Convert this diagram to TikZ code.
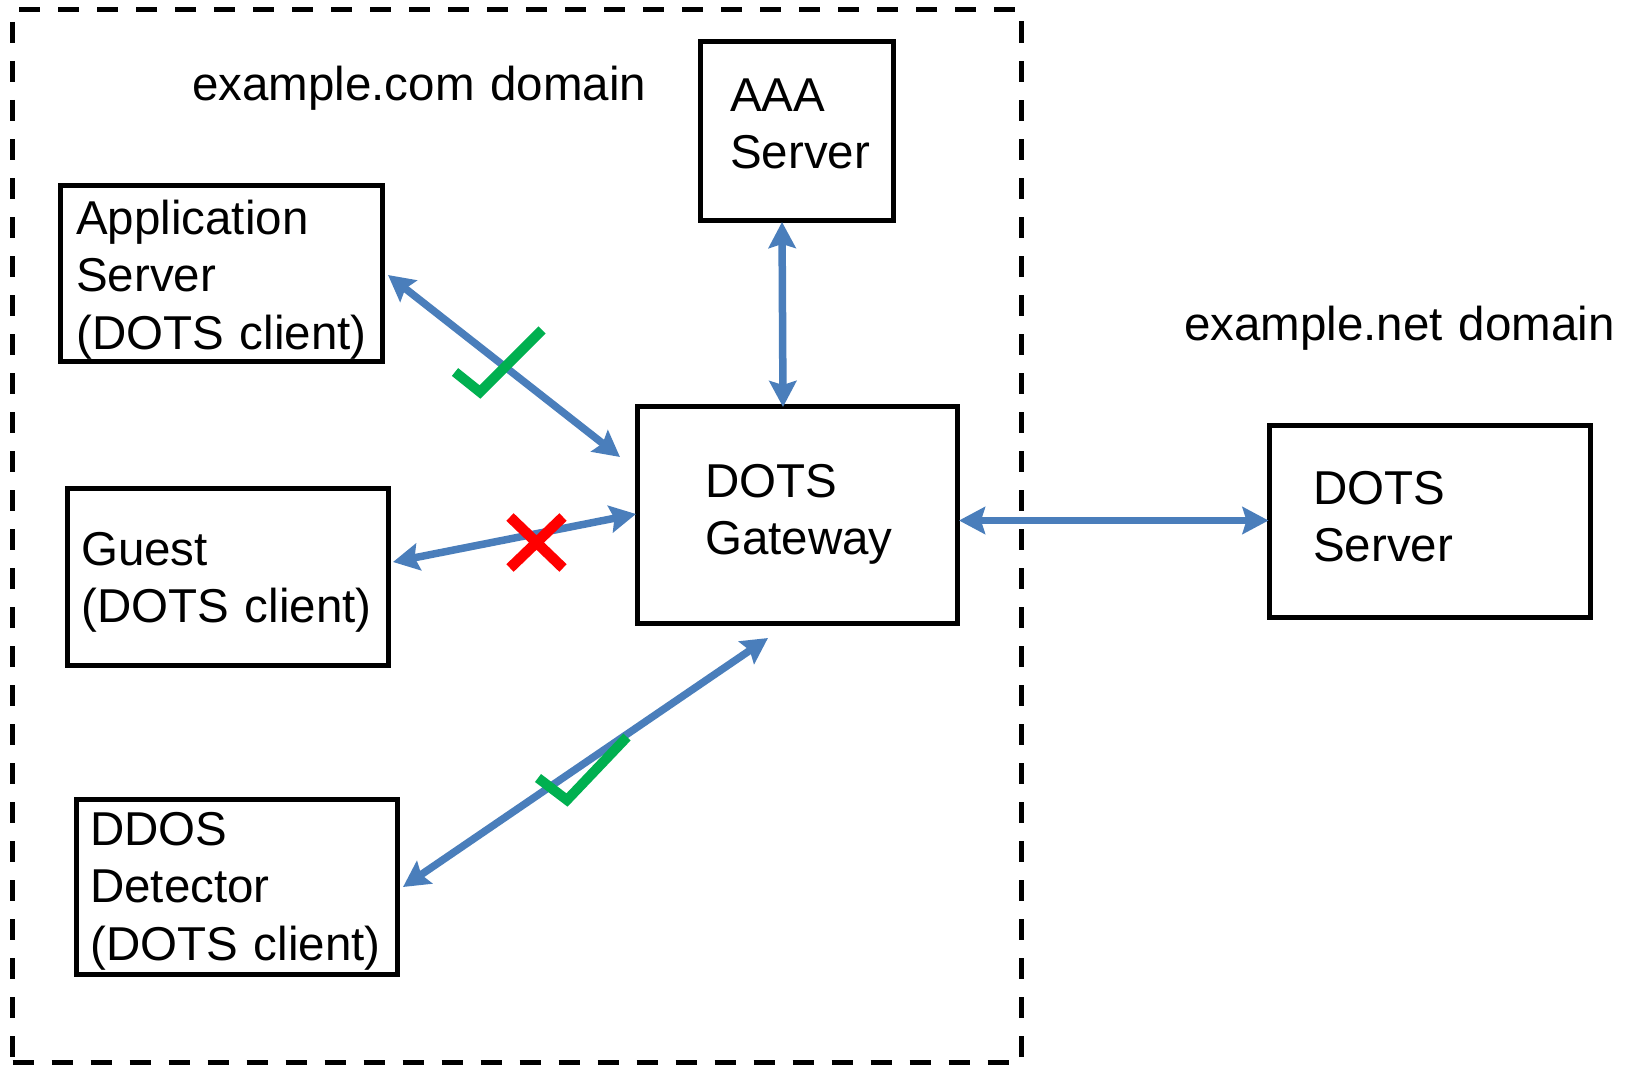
\documentclass[tikz,border=0pt]{standalone}
\usepackage{fontspec}
\setmainfont{Liberation Sans}
\usetikzlibrary{arrows.meta}
\definecolor{arrowblue}{RGB}{74,126,187}
\definecolor{okgreen}{RGB}{0,176,80}
\definecolor{nored}{RGB}{255,0,0}
\begin{document}
\begin{tikzpicture}[x=1pt,y=-1pt,
  box/.style={draw=black, line width=5pt, rectangle, inner sep=0pt},
  domainbox/.style={draw=black, line width=5pt, rectangle, inner sep=0pt, dash pattern=on 21pt off 18pt},
  lbl/.style={anchor=base west, inner sep=0pt, text width=620pt, align=left, font=\fontsize{47.5}{57.5}\selectfont},
  link/.style={draw=arrowblue, line width=7.5pt, {Stealth[length=26pt,width=27pt,inset=4pt]}-{Stealth[length=26pt,width=27pt,inset=4pt]}},
  tick/.style={draw=okgreen, line width=10pt, line join=miter},
  cross/.style={draw=nored, line width=10.5pt}]
\useasboundingbox (0,0) rectangle (1629,1065);

% domain border
\node[domainbox, minimum width=1008.5pt, minimum height=1052pt] (dom) at (516.75,536) {};

% boxes
\node[box, minimum width=322pt, minimum height=176pt] (app) at (221,273) {};
\node[box, minimum width=321pt, minimum height=177pt] (guest) at (228,576.5) {};
\node[box, minimum width=321pt, minimum height=175.5pt] (ddos) at (236.5,887) {};
\node[box, minimum width=320pt, minimum height=217pt] (gw) at (797,514.5) {};
\node[box, minimum width=321pt, minimum height=192pt] (srv) at (1430,521) {};
\node[box, minimum width=193pt, minimum height=178pt] (aaa) at (796.5,131) {};

% texts
\node[lbl] (comT) at (192,100) {example.com domain};
\node[lbl] (netT) at (1184,340) {example.net domain};
\node[lbl] (appT) at (76,234) {Application\\Server\\(DOTS client)};
\node[lbl] (guestT) at (81,565) {Guest\\(DOTS client)};
\node[lbl] (ddosT) at (90,845) {DDOS\\Detector\\(DOTS client)};
\node[lbl] (gwT) at (705,497) {DOTS\\Gateway};
\node[lbl] (srvT) at (1313,504) {DOTS\\Server};
\node[lbl] (aaaT) at (730,111) {AAA\\Server};

% connector end points
\coordinate (aaaEnd) at (782,222);
\coordinate (gwTop) at (783,407);
\coordinate (appEnd) at (388,275);
\coordinate (gwAppEnd) at (620,457);
\coordinate (guestEnd) at (393,562);
\coordinate (gwGuestEnd) at (636,514);
\coordinate (ddosEnd) at (403,887);
\coordinate (gwDdosEnd) at (768,638);
\coordinate (gwRight) at (959,520.5);
\coordinate (srvLeft) at (1268.5,520.5);

\draw[link] (aaaEnd) -- (gwTop);
\draw[link] (appEnd) -- (gwAppEnd);
\draw[link] (guestEnd) -- (gwGuestEnd);
\draw[link] (ddosEnd) -- (gwDdosEnd);
\draw[link] (gwRight) -- (srvLeft);

% marks
\draw[tick] (455,372) -- (480,392) -- (542,330);
\draw[tick] (538,778) -- (567,800) -- (627,737);
\draw[cross] (510,517) -- (563,568);
\draw[cross] (563,517) -- (510,568);
\end{tikzpicture}
\end{document}
